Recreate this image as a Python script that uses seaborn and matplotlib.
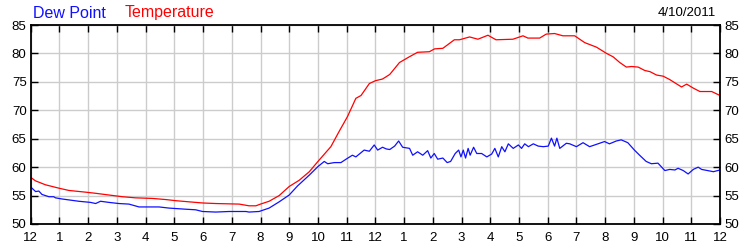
import matplotlib
matplotlib.use("Agg")
import matplotlib.pyplot as plt
import seaborn as sns
import pandas as pd

# Time in hours after midnight, values in degrees F
temp_hours = [0, 0.16, 0.51, 0.98, 1.33, 1.91, 2.26, 2.72, 3.19, 3.65, 4.23, 4.7, 5.05,
              5.51, 5.98, 6.44, 7.26, 7.6, 7.84, 8.0, 8.3, 8.65, 9.0, 9.35, 9.7, 10.0,
              10.45, 10.74, 11.03, 11.32, 11.5, 11.79, 12.0, 12.25, 12.5, 12.84, 13.18,
              13.47, 13.88, 14.06, 14.35, 14.75, 14.93, 15.28, 15.57, 15.92, 16.2, 16.79,
              17.14, 17.31, 17.72, 17.95, 18.24, 18.53, 18.94, 19.29, 19.7, 20.05, 20.28,
              20.51, 20.74, 20.92, 21.15, 21.38, 21.56, 21.79, 22.02, 22.25, 22.66, 22.84,
              23.07, 23.3, 23.71, 24.0]
temperature = [58.2, 57.6, 56.9, 56.3, 55.9, 55.6, 55.4, 55.1, 54.8, 54.6, 54.5, 54.3, 54.1,
               53.9, 53.7, 53.6, 53.5, 53.2, 53.2, 53.5, 54.0, 55.0, 56.6, 57.7, 59.2, 61.0,
               63.6, 66.3, 68.9, 72.1, 72.6, 74.7, 75.2, 75.5, 76.3, 78.4, 79.4,
               80.2, 80.3, 80.8, 80.9, 82.4, 82.4, 82.9, 82.5, 83.2, 82.4, 82.5,
               83.1, 82.7, 82.7, 83.4, 83.5, 83.1, 83.1, 81.9, 81.1, 80.0, 79.4,
               78.4, 77.6, 77.7, 77.6, 77.0, 76.8, 76.2, 76.0, 75.4, 74.1, 74.6,
               73.9, 73.3, 73.3, 72.6]

dew_hours = [0, 0.17, 0.28, 0.39, 0.63, 0.8, 0.86, 1.09, 1.67, 2.08, 2.26, 2.43, 2.72, 3.07,
             3.42, 3.77, 4.47, 4.81, 5.4, 5.74, 5.98, 6.44, 6.91, 7.49, 7.6, 7.95, 8.3,
             8.65, 9.0, 9.29, 9.7, 10.0, 10.22, 10.34, 10.57, 10.8, 10.98, 11.2, 11.32,
             11.61, 11.79, 11.96, 12.08, 12.25, 12.38, 12.5, 12.67, 12.81, 12.95, 13.19,
             13.3, 13.47, 13.65, 13.82, 13.93, 14.05, 14.17, 14.35, 14.5, 14.62, 14.78,
             14.9, 14.98, 15.06, 15.14, 15.23, 15.3, 15.42, 15.53, 15.7, 15.88, 16.05,
             16.16, 16.28, 16.4, 16.51, 16.63, 16.8, 16.98, 17.09, 17.2, 17.33, 17.5,
             17.67, 17.85, 18.02, 18.13, 18.24, 18.32, 18.42, 18.65, 18.77, 19.0, 19.23,
             19.46, 19.75, 19.98, 20.15, 20.39, 20.56, 20.79, 21.02, 21.2, 21.43, 21.61,
             21.84, 22.08, 22.25, 22.43, 22.54, 22.72, 22.89, 23.07, 23.24, 23.36, 23.77,
             24.0]
dew_point = [56.5, 55.7, 55.8, 55.2, 54.8, 54.8, 54.6, 54.4, 54.0, 53.8, 53.6, 54.0, 53.8, 53.6,
             53.5, 53.0, 53.0, 52.8, 52.6, 52.5, 52.2, 52.1, 52.2, 52.2, 52.1, 52.2, 52.8,
             53.9, 55.1, 56.7, 58.6, 60.1, 61.0, 60.6, 60.8, 60.8, 61.4, 62.1, 61.8,
             63.0, 62.8, 63.9, 63.0, 63.5, 63.2, 63.1, 63.7, 64.6, 63.5, 63.3,
             62.1, 62.7, 62.1, 62.9, 61.6, 62.4, 61.4, 61.6, 60.8, 61.0, 62.4,
             63.0, 61.8, 63.0, 61.6, 63.3, 62.1, 63.5, 62.4, 62.4, 61.8, 62.3,
             63.3, 61.8, 63.6, 62.7, 64.1, 63.3, 63.9, 63.3, 64.1, 63.6, 64.1,
             63.7, 63.6, 63.7, 65.1, 63.7, 65.1, 63.3, 64.2, 64.1, 63.6, 64.3,
             63.6, 64.1, 64.5, 64.1, 64.6, 64.8, 64.3, 63.0, 62.1, 61.0, 60.6,
             60.7, 59.4, 59.6, 59.5, 59.8, 59.4, 58.8, 59.6, 60.0, 59.6, 59.2,
             59.5]

hour_labels = ["12", "1", "2", "3", "4", "5", "6", "7", "8", "9", "10", "11",
               "12", "1", "2", "3", "4", "5", "6", "7", "8", "9", "10", "11", "12"]
y_ticks = [50, 55, 60, 65, 70, 75, 80, 85]

df = pd.concat([
    pd.DataFrame({"hour": dew_hours, "value": dew_point, "series": "Dew Point"}),
    pd.DataFrame({"hour": temp_hours, "value": temperature, "series": "Temperature"}),
])

sns.set_style("white")
plt.rcParams["font.family"] = ["Liberation Sans", "DejaVu Sans"]

fig = plt.figure(figsize=(7.5, 2.5), dpi=100)
ax = fig.add_axes([0.041, 0.104, 0.919, 0.796])

sns.lineplot(data=df, x="hour", y="value", hue="series",
             palette={"Dew Point": "#1010ff", "Temperature": "#ff0000"},
             linewidth=0.9, legend=False, ax=ax, sort=True, estimator=None)

ax.set_xlim(0, 24)
ax.set_ylim(50, 85)
ax.set_xticks(range(25))
ax.set_xticklabels(hour_labels)
ax.set_yticks(y_ticks)
ax.set_xlabel("")
ax.set_ylabel("")
ax.grid(True, color="#cccccc", linewidth=1.0)
ax.set_axisbelow(True)
for s in ax.spines.values():
    s.set_color("black")
    s.set_linewidth(1.3)
ax.tick_params(axis="both", direction="in", length=5, width=1, colors="black",
               labelsize=9.5, top=True, right=True, labelright=True, bottom=True, left=True)
ax.tick_params(axis="x", pad=6)
ax.tick_params(axis="y", pad=3)

fig.text(0.044, 0.948, "Dew Point", color="#1010ff", fontsize=11.5, ha="left", va="center")
fig.text(0.166, 0.948, "Temperature", color="#ff0000", fontsize=11.5, ha="left", va="center")
fig.text(0.955, 0.948, "4/10/2011", color="black", fontsize=9.5, ha="right", va="center")

fig.savefig("out.png", dpi=100)
